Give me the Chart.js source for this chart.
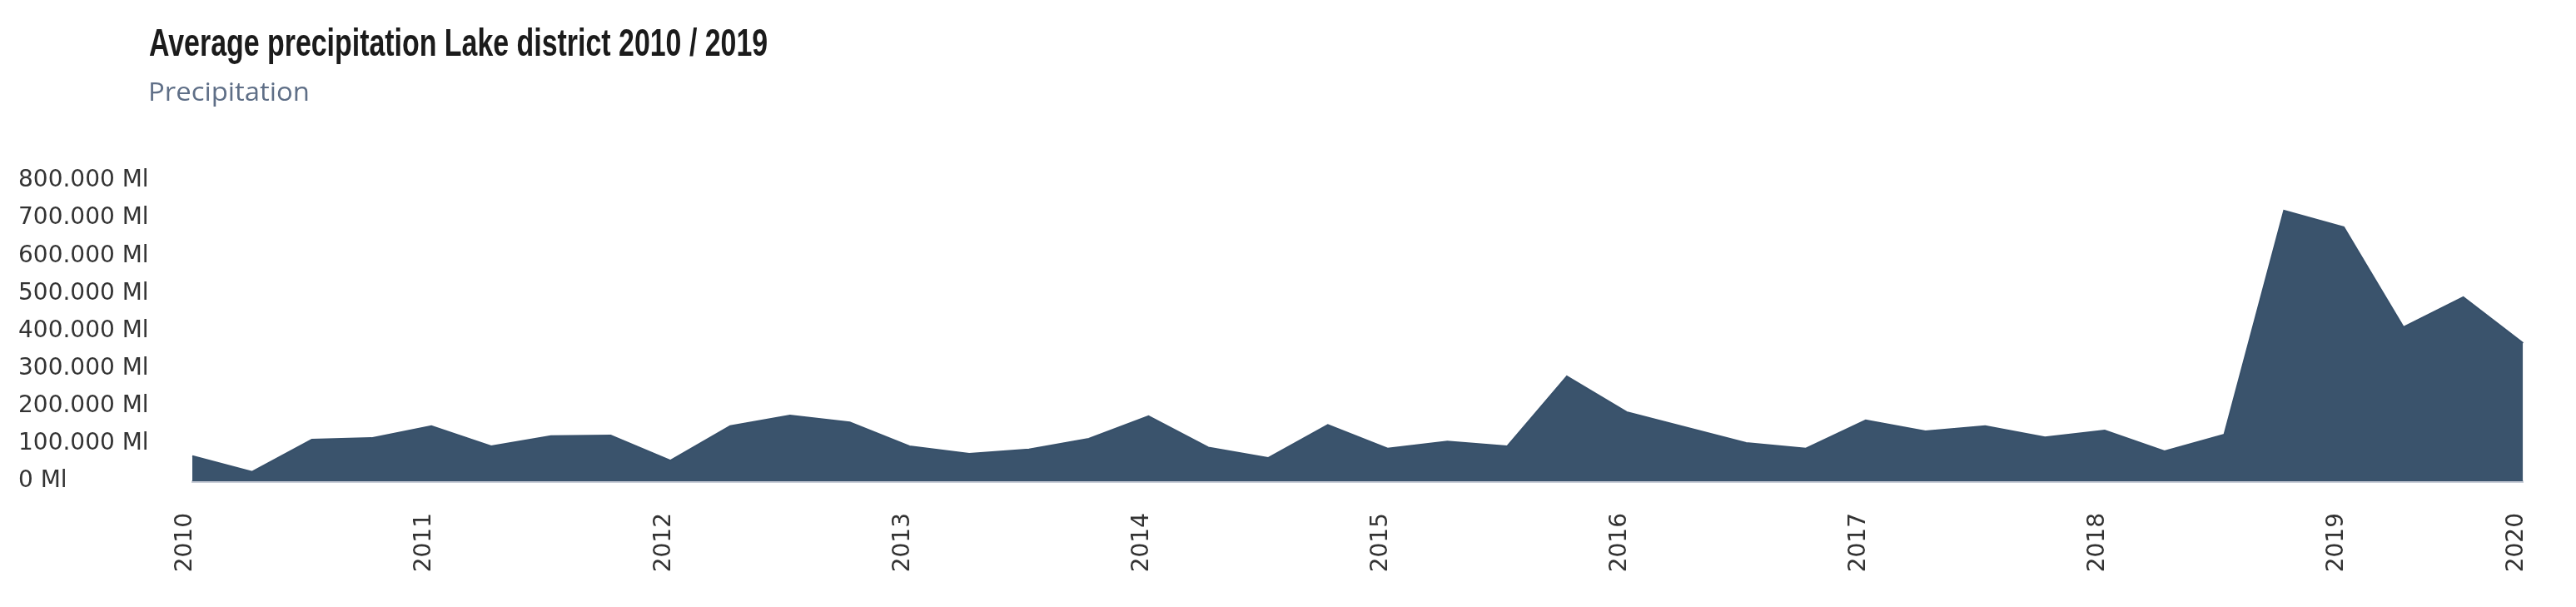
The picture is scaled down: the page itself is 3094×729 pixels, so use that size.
<!DOCTYPE html>
<html lang="en">
<head>
<meta charset="UTF-8">
<title>Average precipitation Lake district 2010 / 2019</title>
<script src="https://cdn.jsdelivr.net/npm/chart.js"></script>
<style>
    body { margin: 0; background: #fff; }
    .wrap { position: relative; width: 3094px; height: 729px; overflow: hidden; }
    .title {
        position: absolute; left: 179px; top: 28px;
        font-family: "Liberation Sans", Arial, sans-serif;
        font-size: 46px; line-height: 46px; font-weight: bold; color: #1b1b1b;
        white-space: nowrap; transform-origin: 0 0;
    }
    .subtitle {
        position: absolute; left: 178px; top: 94px;
        font-family: "Open Sans", sans-serif;
        font-size: 31px; line-height: 31px; color: #5f6f87;
        white-space: nowrap; transform-origin: 0 0;
    }
    canvas { position: absolute; left: 0; top: 0; }
</style>
</head>
<body>
<div class="wrap">
    <canvas id="chart" width="3094" height="729"></canvas>
    <div class="title" id="title">Average precipitation Lake district 2010 / 2019</div>
    <div class="subtitle" id="subtitle">Precipitation</div>
</div>
<script>
// quarterly periods
const quarters = [
    '2010 Q1', '2010 Q2', '2010 Q3', '2010 Q4',
    '2011 Q1', '2011 Q2', '2011 Q3', '2011 Q4',
    '2012 Q1', '2012 Q2', '2012 Q3', '2012 Q4',
    '2013 Q1', '2013 Q2', '2013 Q3', '2013 Q4',
    '2014 Q1', '2014 Q2', '2014 Q3', '2014 Q4',
    '2015 Q1', '2015 Q2', '2015 Q3', '2015 Q4',
    '2016 Q1', '2016 Q2', '2016 Q3', '2016 Q4',
    '2017 Q1', '2017 Q2', '2017 Q3', '2017 Q4',
    '2018 Q1', '2018 Q2', '2018 Q3', '2018 Q4',
    '2019 Q1', '2019 Q2', '2019 Q3', '2019 Q4'
];

// precipitation in Ml
const precipitation = [
    67000, 25000, 111000, 115000,
    147000, 93000, 120000, 122000,
    55000, 147000, 175000, 157000,
    93000, 73000, 85000, 113000,
    173000, 90000, 62000, 150000,
    87000, 106000, 93000, 279000,
    184000, 143000, 102000, 87000,
    162000, 133000, 147000, 117000,
    135000, 80000, 124000, 720000,
    676000, 410000, 490000, 368000
];

// year labels shown on the x axis, by category index
const yearTicks = {
    0: '2010', 4: '2011', 8: '2012', 12: '2013', 16: '2014',
    20: '2015', 24: '2016', 28: '2017', 32: '2018', 36: '2019', 39: '2020'
};

const yMax = 800000;
const yStep = 100000;

// squeeze the title fonts to the reference widths
function fitWidth(id, w) {
    const el = document.getElementById(id);
    el.style.transform = 'scaleX(' + (w / el.offsetWidth) + ')';
}
fitWidth('title', 743);
fitWidth('subtitle', 194);

const ctx = document.getElementById('chart').getContext('2d');

new Chart(ctx, {
    type: 'line',
    data: {
        labels: quarters,
        datasets: [{
            label: 'Precipitation',
            data: precipitation,
            fill: 'origin',
            backgroundColor: '#3a536c',
            borderColor: '#37506a',
            borderWidth: 2,
            pointRadius: 0,
            tension: 0
        }]
    },
    options: {
        responsive: false,
        animation: false,
        layout: {
            padding: { left: 22, right: 61, top: 217, bottom: 0 }
        },
        plugins: {
            legend: { display: false },
            tooltip: { enabled: false }
        },
        scales: {
            x: {
                grid: { display: false },
                border: { display: true, color: '#c9ced8', width: 3 },
                ticks: {
                    autoSkip: false,
                    minRotation: 90,
                    maxRotation: 90,
                    padding: 30,
                    labelOffset: -8,
                    color: '#333333',
                    font: { family: 'DejaVu Sans', size: 28 },
                    callback: (v, i) => yearTicks[i] || ''
                },
                afterFit: (scale) => { scale.height = 151; }
            },
            y: {
                min: 0,
                max: yMax,
                grid: { display: false },
                border: { display: false },
                ticks: {
                    stepSize: yStep,
                    crossAlign: 'far',
                    color: '#333333',
                    font: { family: 'DejaVu Sans', size: 28 },
                    callback: (v) => v.toLocaleString('de-DE') + ' Ml'
                },
                afterFit: (scale) => { scale.width = 209; }
            }
        }
    }
});
</script>
</body>
</html>
